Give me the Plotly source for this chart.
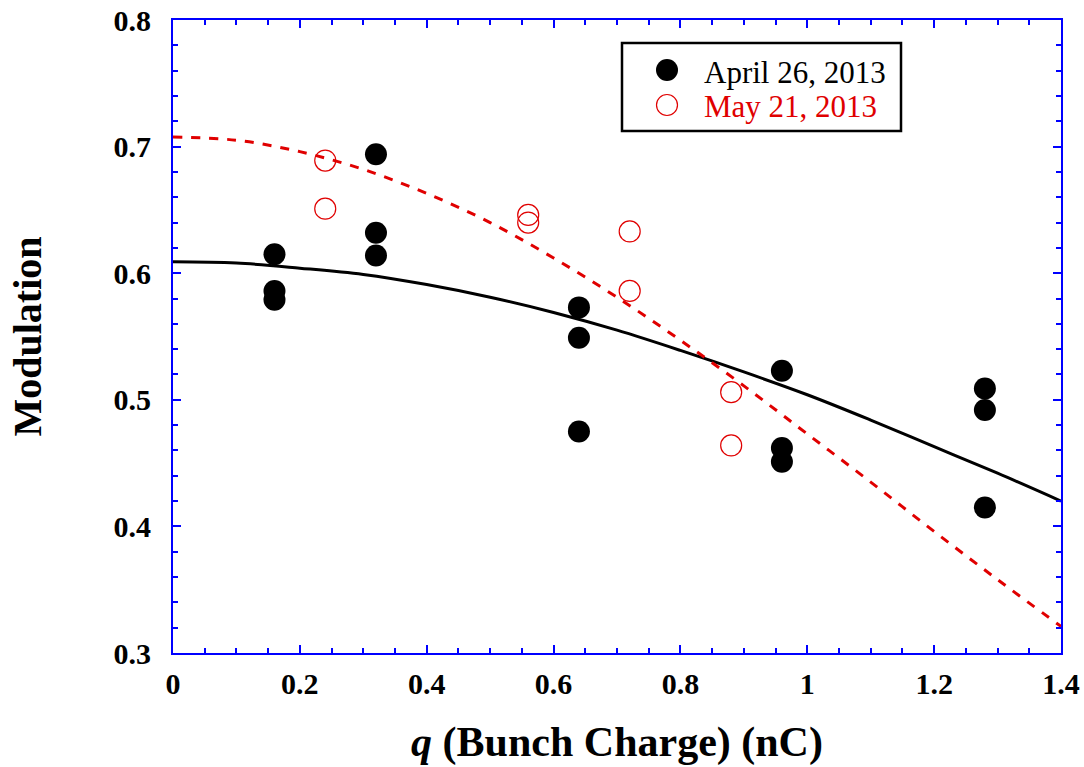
import plotly.graph_objects as go

# Measured points
apr_q = [0.16, 0.16, 0.16, 0.32, 0.32, 0.32, 0.64, 0.64, 0.64, 0.96, 0.96, 0.96, 1.28, 1.28, 1.28]
apr_m = [0.615, 0.586, 0.579, 0.694, 0.632, 0.614, 0.573, 0.549, 0.475, 0.523, 0.462, 0.451, 0.509, 0.492, 0.415]

may_q = [0.24, 0.24, 0.56, 0.56, 0.72, 0.72, 0.88, 0.88]
may_m = [0.689, 0.651, 0.646, 0.640, 0.633, 0.586, 0.506, 0.464]

# Fit curves
fit_q = [0.0, 0.1, 0.2, 0.3, 0.4, 0.5, 0.6, 0.7, 0.8, 0.9, 1.0, 1.1, 1.2, 1.3, 1.4]
apr_fit = [0.609, 0.608, 0.604, 0.599, 0.591, 0.581, 0.569, 0.555, 0.539, 0.522, 0.504, 0.484, 0.463, 0.442, 0.420]
may_fit = [0.7075, 0.705, 0.696, 0.682, 0.663, 0.640, 0.612, 0.581, 0.547, 0.511, 0.473, 0.435, 0.396, 0.358, 0.321]

series_names = ["April 26, 2013", "May 21, 2013"]

FONT = "Liberation Serif"
BLUE = "#0000ff"
RED = "#e00000"

fig = go.Figure()
fig.add_trace(go.Scatter(x=fit_q, y=apr_fit, mode="lines", line=dict(color="black", width=3, shape="spline"),
                         showlegend=False, hoverinfo="skip"))
fig.add_trace(go.Scatter(x=fit_q, y=may_fit, mode="lines", line=dict(color=RED, width=3, dash="dash", shape="spline"),
                         showlegend=False, hoverinfo="skip"))
fig.add_trace(go.Scatter(x=apr_q, y=apr_m, mode="markers", name=series_names[0], showlegend=False,
                         marker=dict(symbol="circle", size=22, color="black", line=dict(width=0))))
fig.add_trace(go.Scatter(x=may_q, y=may_m, mode="markers", name=series_names[1], showlegend=False,
                         marker=dict(symbol="circle-open", size=21, color=RED, line=dict(width=1.2, color=RED))))

axis_common = dict(
    showline=True, linecolor=BLUE, linewidth=2, mirror="allticks",
    ticks="inside", ticklen=8, tickwidth=1.5, tickcolor=BLUE,
    showgrid=False, zeroline=False, automargin=False,
    tickfont=dict(family=FONT, size=30, color="black", weight="bold"),
)

fig.update_xaxes(range=[0, 1.4], dtick=0.2, tick0=0, ticklabelstandoff=3,
                 minor=dict(ticks="inside", ticklen=5, tickwidth=1.5, tickcolor=BLUE, dtick=0.05, showgrid=False),
                 title=dict(text="<i>q</i> (Bunch Charge) (nC)", font=dict(family=FONT, size=42, color="black", weight="bold"),
                            standoff=28),
                 **axis_common)
fig.update_yaxes(range=[0.3, 0.8], dtick=0.1, tick0=0.3, ticklabelstandoff=14,
                 minor=dict(ticks="inside", ticklen=5, tickwidth=1.5, tickcolor=BLUE, dtick=0.02, showgrid=False),
                 title=dict(text="Modulation", font=dict(family=FONT, size=40, color="black", weight="bold"),
                            standoff=60),
                 **axis_common)

# Legend drawn as a framed box (paper coordinates)
PX0, PW, PY0, PH = 173, 888, 653, 633
def px(x):
    return (x - PX0) / PW
def py(y):
    return (PY0 - y) / PH

shapes = [
    dict(type="rect", xref="paper", yref="paper", x0=px(622), x1=px(901), y0=py(131), y1=py(43),
         line=dict(color="black", width=2.5), fillcolor="white", layer="above"),
    dict(type="circle", xref="paper", yref="paper", xsizemode="pixel", ysizemode="pixel",
         xanchor=px(667), yanchor=py(70), x0=-11, x1=11, y0=-11, y1=11,
         fillcolor="black", line=dict(color="black", width=0), layer="above"),
    dict(type="circle", xref="paper", yref="paper", xsizemode="pixel", ysizemode="pixel",
         xanchor=px(667), yanchor=py(105), x0=-10.5, x1=10.5, y0=-10.5, y1=10.5,
         fillcolor="rgba(0,0,0,0)", line=dict(color=RED, width=1.2), layer="above"),
]
annotations = [
    dict(xref="paper", yref="paper", x=px(702), y=py(72), xanchor="left", yanchor="middle",
         text=series_names[0], showarrow=False, font=dict(family=FONT, size=31, color="black")),
    dict(xref="paper", yref="paper", x=px(702), y=py(106), xanchor="left", yanchor="middle",
         text=series_names[1], showarrow=False, font=dict(family=FONT, size=31, color=RED)),
]

fig.update_layout(
    width=1084, height=767,
    margin=dict(l=173, r=23, t=20, b=114, autoexpand=False),
    plot_bgcolor="white", paper_bgcolor="white",
    showlegend=False,
    shapes=shapes, annotations=annotations,
)

fig.write_html("out.html")
